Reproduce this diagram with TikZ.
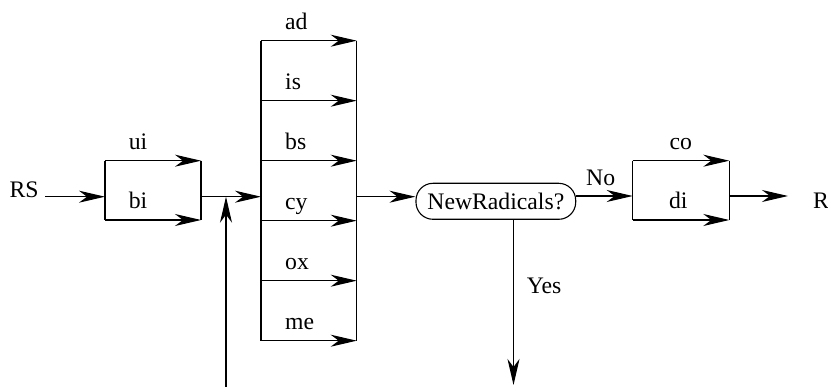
\documentclass[tikz,border=0pt]{standalone}
\usepackage{fontspec}
\setmainfont{Liberation Serif}
\usetikzlibrary{arrows.meta,calc}
\tikzset{
  lbl/.style={inner sep=0pt, font=\fontsize{23.7}{28}\selectfont},
  lw/.style={lbl, anchor=base west},
  lc/.style={lbl, anchor=base},
  ln/.style={line width=1.1pt},
  conn/.style={line width=1.1pt, -{Stealth[length=26pt,width=12pt,inset=8pt]}},
  frame/.style={inner sep=0pt, outer sep=0pt},
}
\begin{document}
\begin{tikzpicture}[x=1pt,y=-1pt]
\useasboundingbox (0,0) rectangle (828,387);
% boxes (frames drawn by lines)
\node[frame, minimum width=96pt, minimum height=59.3pt] (b1) at (153,190.35) {};
\node[frame, minimum width=95.7pt, minimum height=300pt] (bb) at (308.85,190.7) {};
\node[frame, minimum width=96.6pt, minimum height=59.3pt] (b2) at (681,190.35) {};
\node[lbl, draw, line width=1.1pt, rounded corners=17pt, minimum width=159.7pt, minimum height=36pt] (nr) at (495.85,201.3) {NewRadicals?};
% coordinates
\coordinate (j1) at (226,196.7);
\coordinate (j2) at (600,196);
\coordinate (rsend) at (45,196.7);
\coordinate (feed) at (226,387);
\coordinate (yesend) at (513.5,385);
\coordinate (rout) at (788,196);
% labels
\node[lw] (rs) at (9.3,197.5) {RS};
\node[lc] (ui) at (138,149.3) {ui};
\node[lc] (bi) at (138,208.6) {bi};
\node[lw] (ad) at (285,29.3) {ad};
\node[lw] (is) at (285,89.3) {is};
\node[lw] (bs) at (285,149.3) {bs};
\node[lw] (cy) at (285,209.3) {cy};
\node[lw] (ox) at (285,269.3) {ox};
\node[lw] (me) at (285,329.3) {me};
\node[lw] (yes) at (526.7,293.3) {Yes};
\node[lw] (no) at (586,186) {No};
\node[lc] (co) at (680.8,149.3) {co};
\node[lc] (di) at (678.3,208.6) {di};
\node[lw] (r) at (813,208.6) {R};
% box 1
\draw[ln] (b1.north west) -- (b1.south west);
\draw[ln] (b1.north east) -- (b1.south east);
\draw[conn] (b1.north west) -- (b1.north east);
\draw[conn] (b1.south west) -- (b1.south east);
% big box
\draw[ln] (bb.north west) -- (bb.south west);
\draw[ln] (bb.north east) -- (bb.south east);
\foreach \k in {0,...,5}{
  \draw[conn] ($(bb.north west)!\k/5!(bb.south west)$) -- ($(bb.north east)!\k/5!(bb.south east)$);
}
% box 2
\draw[ln] (b2.north west) -- (b2.south west);
\draw[ln] (b2.north east) -- (b2.south east);
\draw[conn] (b2.north west) -- (b2.north east);
\draw[conn] (b2.south west) -- (b2.south east);
% connectors
\draw[conn] (rsend) -- (rsend -| b1.west);
\draw[conn] (b1.east |- j1) -- (bb.west |- j1);
\draw[conn] (feed) -- (j1);
\draw[conn] (bb.east |- j1) -- (nr.west |- j1);
\draw[conn] (nr.south -| yesend) -- (yesend);
\draw[conn] (nr.east |- j2) -- (b2.west |- j2);
\draw[conn] (b2.east |- rout) -- (rout);
\end{tikzpicture}
\end{document}
